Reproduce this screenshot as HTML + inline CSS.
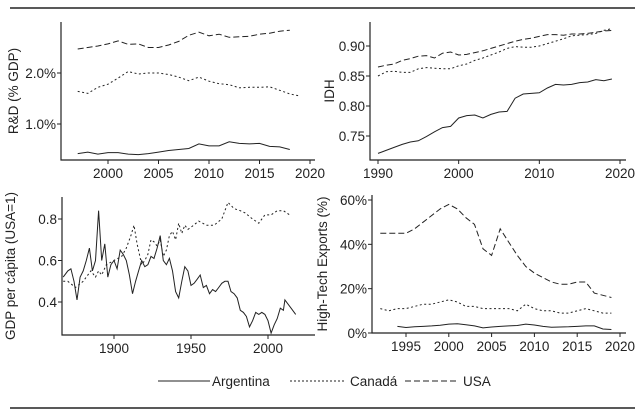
<!DOCTYPE html>
<html><head><meta charset="utf-8"><style>
html,body{margin:0;padding:0;background:#fff;}
svg{display:block;font-family:"Liberation Sans",sans-serif;}
text{fill:#222;font-size:13.5px;}
</style></head><body>
<svg id="c" width="641" height="420">
<line x1="10" y1="8" x2="635" y2="8" stroke="#222" stroke-width="1.5"/>
<line x1="10" y1="408" x2="635" y2="408" stroke="#222" stroke-width="1.5"/>
<g>
<line x1="158" y1="381" x2="210" y2="381" stroke="#222"/>
<text x="212" y="386">Argentina</text>
<line x1="290" y1="381" x2="345" y2="381" stroke="#222" stroke-dasharray="2,2"/>
<text x="350" y="386">Canadá</text>
<line x1="405" y1="381" x2="459" y2="381" stroke="#222" stroke-dasharray="6,3"/>
<text x="463" y="386">USA</text>
</g>
</svg>
<script>
// Panel 1: R&D
const rdYears=[1997,1998,1999,2000,2001,2002,2003,2004,2005,2006,2007,2008,2009,2010,2011,2012,2013,2014,2015,2016,2017,2018,2019];
const rdUSA=[2.47,2.50,2.53,2.57,2.63,2.56,2.57,2.50,2.50,2.55,2.62,2.74,2.80,2.73,2.76,2.70,2.71,2.72,2.76,2.78,2.82,2.84,null];
const rdCAN=[1.64,1.60,1.72,1.78,1.90,2.03,1.98,2.00,2.00,1.97,1.92,1.85,1.92,1.84,1.79,1.77,1.71,1.72,1.72,1.73,1.66,1.59,1.55];
const rdARG=[0.42,0.45,0.41,0.44,0.44,0.41,0.40,0.42,0.45,0.48,0.50,0.52,0.61,0.57,0.57,0.65,0.62,0.61,0.62,0.56,0.55,0.50,null];
const rdXTicks=[2000,2005,2010,2015,2020];
const rdYTicks=[1.0,2.0];
const rdYLabels=["1.0%","2.0%"];
// Panel 2: IDH
const idhYears=[1990,1991,1992,1993,1994,1995,1996,1997,1998,1999,2000,2001,2002,2003,2004,2005,2006,2007,2008,2009,2010,2011,2012,2013,2014,2015,2016,2017,2018,2019];
const idhUSA=[.865,.868,.870,.876,.879,.883,.884,.880,.888,.890,.885,.886,.889,.892,.896,.900,.904,.908,.911,.913,.916,.919,.919,.918,.920,.920,.921,.923,.925,.926];
const idhCAN=[.850,.857,.858,.856,.856,.862,.864,.863,.862,.862,.867,.870,.876,.880,.885,.890,.896,.899,.898,.898,.900,.904,.908,.912,.917,.918,.919,.921,.926,.929];
const idhARG=[.721,.726,.731,.736,.740,.742,.749,.757,.764,.766,.780,.784,.785,.780,.786,.790,.791,.813,.820,.821,.822,.830,.836,.835,.836,.839,.840,.844,.842,.845];
const idhXTicks=[1990,2000,2010,2020];
const idhYTicks=[0.75,0.80,0.85,0.90];
const idhYLabels=["0.75","0.80","0.85","0.90"];
// Panel 3: GDP per capita
const gdpArgYears=[1867,1870,1872,1874,1876,1878,1880,1882,1884,1886,1888,1890,1892,1894,1896,1898,1900,1902,1904,1906,1908,1910,1912,1914,1916,1918,1920,1922,1924,1926,1928,1930,1932,1934,1936,1938,1940,1942,1944,1946,1948,1950,1952,1954,1956,1958,1960,1962,1964,1966,1968,1970,1972,1974,1976,1978,1980,1982,1984,1986,1988,1990,1992,1994,1996,1998,2000,2002,2004,2006,2008,2010,2011,2013,2015,2018];
const gdpArg=[.52,.55,.56,.50,.41,.52,.55,.60,.66,.55,.60,.84,.60,.68,.52,.58,.60,.56,.65,.63,.60,.53,.44,.50,.55,.60,.57,.58,.62,.61,.66,.72,.60,.58,.61,.55,.45,.42,.50,.57,.55,.48,.49,.51,.53,.47,.48,.44,.46,.45,.47,.49,.50,.50,.45,.44,.42,.36,.35,.33,.28,.31,.35,.34,.35,.34,.31,.25,.29,.32,.37,.36,.41,.39,.37,.34];
const gdpCanYears=[1867,1870,1875,1880,1885,1888,1890,1892,1895,1900,1905,1908,1911,1913,1915,1918,1920,1922,1924,1926,1928,1930,1932,1934,1936,1938,1940,1942,1944,1946,1948,1950,1955,1960,1965,1970,1974,1978,1982,1985,1990,1994,1998,2002,2006,2010,2014];
const gdpCan=[.50,.50,.47,.50,.55,.52,.55,.53,.58,.60,.62,.66,.72,.77,.68,.58,.60,.63,.70,.69,.67,.70,.62,.65,.72,.74,.70,.78,.73,.77,.75,.76,.79,.77,.77,.80,.88,.85,.84,.83,.80,.78,.82,.82,.84,.84,.82];
const gdpXTicks=[1900,1950,2000];
const gdpYTicks=[0.4,0.6,0.8];
const gdpYLabels=["0.4","0.6","0.8"];
// Panel 4: High-tech exports
const htYears=[1992,1993,1994,1995,1996,1997,1998,1999,2000,2001,2002,2003,2004,2005,2006,2007,2008,2009,2010,2011,2012,2013,2014,2015,2016,2017,2018,2019];
const htUSA=[45,45,45,45,47,50,53,56,58,56,52,49,38,35,47,41,35,30,27,25,23,22,22,23,23,18,17,16];
const htCAN=[11,10,11,11,12,13,13,14,15,14,12,12,11,11,11,11,10,13,11,10,10,9,9,10,11,10,9,9];
const htARG=[null,null,3,2.5,2.8,3,3.2,3.5,4,4.2,3.7,3.2,2.3,2.7,3,3.2,3.4,4,3.6,3,2.6,2.7,2.8,3,3.2,3.2,1.8,1.6];
const htXTicks=[1995,2000,2005,2010,2015,2020];
const htYTicks=[0,20,40,60];
const htYLabels=["0%","20%","40%","60%"];

const svg=document.getElementById('c');
const NS="http://www.w3.org/2000/svg";
function mk(tag,attrs,parent){const e=document.createElementNS(NS,tag);for(const k in attrs)e.setAttribute(k,attrs[k]);(parent||svg).appendChild(e);return e;}
function lin(d0,d1,r0,r1){return v=>r0+(v-d0)*(r1-r0)/(d1-d0);}

function panel(name,P,xs,ys,xt,yt,yl,title,titleX,series){
  const g=mk('g',{});
  
  
  const ax=mk('path',{d:`M${P.l},${P.t} V${P.b} H${P.r}`,fill:'none',stroke:'#222','stroke-width':1.2},g);
  
  
  xt.forEach(v=>{const x=xs(v);
    const t=mk('line',{x1:x,y1:P.b,x2:x,y2:P.b+4,stroke:'#222'},g);
    
    
    const l=mk('text',{x:x,y:P.b+18,'text-anchor':'middle'},g);l.textContent=v;
    
    });
  yt.forEach((v,i)=>{const y=ys(v);
    const t=mk('line',{x1:P.l-4,y1:y,x2:P.l,y2:y,stroke:'#222'},g);
    
    
    const l=mk('text',{x:P.l-5,y:y+5,'text-anchor':'end'},g);l.textContent=yl[i];
    
    });
  const cy=(P.t+P.b)/2;
  const tt=mk('text',{x:titleX,y:cy,'text-anchor':'middle',transform:`rotate(-90 ${titleX} ${cy})`},g);
  tt.textContent=title;
  
  
  series.forEach(s=>{
    let d='',pen=false;
    s.years.forEach((yr,i)=>{const v=s.vals[i];
      if(v==null){pen=false;return;}
      d+=(pen?'L':'M')+xs(yr).toFixed(1)+','+ys(v).toFixed(1)+' ';pen=true;});
    const p=mk('path',{d:d,fill:'none',stroke:'#222','stroke-width':1,'stroke-dasharray':s.dash||'none'},g);
    
    
  });
}
const U='6,3',C='2,2.5';
panel('rd-panel',{l:61,t:22,b:160,r:315},lin(2000,2020,108,310),lin(1,2,124,73),rdXTicks,rdYTicks,rdYLabels,'R&D (% GDP)',18,
 [{name:'usa-line',years:rdYears,vals:rdUSA,dash:U},{name:'canada-line',years:rdYears,vals:rdCAN,dash:C},{name:'argentina-line',years:rdYears,vals:rdARG}]);
panel('idh-panel',{l:370,t:22,b:160,r:626},lin(1990,2020,378,620),lin(0.75,0.90,136,46),idhXTicks,idhYTicks,idhYLabels,'IDH',334,
 [{name:'usa-line',years:idhYears,vals:idhUSA,dash:U},{name:'canada-line',years:idhYears,vals:idhCAN,dash:C},{name:'argentina-line',years:idhYears,vals:idhARG}]);
panel('gdp-panel',{l:62,t:197,b:335,r:315},lin(1900,2000,114,268),lin(0.4,0.8,302,219),gdpXTicks,gdpYTicks,gdpYLabels,'GDP per cápita (USA=1)',15,
 [{name:'canada-line',years:gdpCanYears,vals:gdpCan,dash:C},{name:'argentina-line',years:gdpArgYears,vals:gdpArg}]);
panel('hightech-panel',{l:372,t:195,b:333,r:626},lin(1995,2020,406,620),lin(0,60,333,200),htXTicks,htYTicks,htYLabels,'High-Tech Exports (%)',327,
 [{name:'usa-line',years:htYears,vals:htUSA,dash:U},{name:'canada-line',years:htYears,vals:htCAN,dash:C},{name:'argentina-line',years:htYears,vals:htARG}]);
</script>
</body></html>
